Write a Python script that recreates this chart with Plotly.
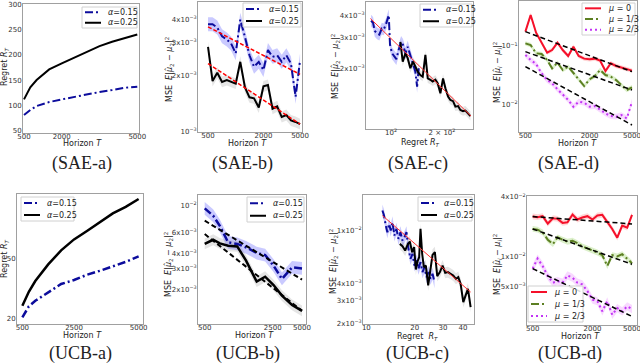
import plotly.graph_objects as go

W, H = 640, 364

# ---------------- data ----------------
# SAE-a : regret vs horizon
sae_a_T = [500, 750, 1000, 1500, 2000, 2500, 3000, 3500, 4000, 4500, 5000]
sae_a_a15 = [81.5, 91.3, 99.2, 107, 112.3, 117.6, 122.8, 126.8, 130.7, 135.3, 137.3]
sae_a_a25 = [112.3, 136, 150.4, 171.4, 183.2, 195, 206.2, 217.3, 225.9, 232.4, 240.3]

# SAE-b : MSE vs horizon
sae_b_T = [500, 560, 630, 710, 800, 890, 1000, 1120, 1260, 1410, 1580,
           1780, 2000, 2240, 2510, 2820, 3160, 3550, 3980, 4470, 5000]
sae_b_a15 = [3.76e-3, 3.76e-3, 3.61e-3, 3.24e-3, 3.11e-3, 2.96e-3, 2.62e-3, 3.98e-3,
             3.21e-3, 2.56e-3, 2.22e-3, 2.36e-3, 2.13e-3, 2.73e-3, 2.51e-3, 2.56e-3,
             2.36e-3, 2.56e-3, 2.31e-3, 1.53e-3, 2.41e-3]
sae_b_a25 = [2.84e-3, 1.86e-3, 2.06e-3, 1.84e-3, 1.88e-3, 1.84e-3, 1.80e-3, 2.36e-3,
             1.72e-3, 1.52e-3, 1.50e-3, 1.34e-3, 1.74e-3, 1.77e-3, 1.32e-3, 1.36e-3,
             1.19e-3, 1.22e-3, 1.14e-3, 1.12e-3, 1.09e-3]
sae_b_fitT = [500, 5000]
sae_b_fit15 = [3.64e-3, 2.02e-3]
sae_b_fit25 = [2.31e-3, 1.09e-3]

# SAE-c : MSE vs regret
sae_c_R15 = [76.2, 78.3, 80.1, 82.7, 85.3, 88.1, 90.5, 93.4, 96.9, 98.6, 101.4, 104.6,
             107.5, 110.9, 114.6, 117.7, 121.6, 125.4, 130.0, 134.9, 139.2, 142.5, 145.7]
sae_c_m15 = [3.72e-3, 3.62e-3, 3.26e-3, 3.15e-3, 3.10e-3, 3.36e-3, 3.32e-3, 3.56e-3,
             4.0e-3, 2.71e-3, 2.43e-3, 2.31e-3, 2.25e-3, 2.54e-3, 2.82e-3, 2.71e-3,
             2.43e-3, 2.65e-3, 2.38e-3, 2.09e-3, 1.91e-3, 1.57e-3, 2.0e-3]
sae_c_R25 = [113.5, 117.2, 121.6, 125.4, 130.0, 134.9, 139.3, 143.7, 148.9, 153.8,
             159.5, 164.7, 170.8, 176.1, 182.7, 188.7, 195.6, 202.8, 209.4, 217.2,
             224.1, 232.4, 239.9, 248.8, 256.6, 266.1, 274.8, 285.0, 294.4]
sae_c_m25 = [2.82e-3, 2.18e-3, 2.43e-3, 2.28e-3, 2.0e-3, 2.18e-3, 2.04e-3, 1.91e-3,
             1.83e-3, 1.79e-3, 2.38e-3, 1.75e-3, 1.72e-3, 1.68e-3, 1.72e-3, 1.64e-3,
             1.44e-3, 1.75e-3, 1.54e-3, 1.38e-3, 1.32e-3, 1.30e-3, 1.21e-3, 1.22e-3,
             1.16e-3, 1.14e-3, 1.15e-3, 1.10e-3, 1.07e-3]
sae_c_fitR = [75.5, 296.5]
sae_c_fit = [3.83e-3, 1.07e-3]

# SAE-d : MSE per arm vs horizon
sae_d_T = sae_b_T
sae_d_mu0 = [0.176, 0.340, 0.169, 0.114, 0.0769, 0.0853, 0.114, 0.0853, 0.0674, 0.0974,
             0.0674, 0.0607, 0.0591, 0.0607, 0.0561, 0.0373, 0.0505, 0.0454, 0.0425,
             0.0398, 0.0378]
sae_d_mu1 = [0.111, 0.104, 0.0749, 0.0729, 0.0575, 0.0414, 0.0518, 0.0388, 0.0443,
             0.0349, 0.0268, 0.0206, 0.0268, 0.0306, 0.0388, 0.0318, 0.0298, 0.0261,
             0.0214, 0.0176, 0.0196]
sae_d_mu2 = [0.0701, 0.0575, 0.0491, 0.034, 0.0261, 0.0229, 0.0181, 0.0150, 0.0119,
             0.00912, 0.0111, 0.0107, 0.00912, 0.00936, 0.0080, 0.0070, 0.0063,
             0.00615, 0.00656, 0.00575, 0.0111]
sae_d_fitT = [500, 5000]
sae_d_fit0 = [0.176, 0.0363]
sae_d_fit1 = [0.080, 0.0176]
sae_d_fit2 = [0.0443, 0.00443]

# UCB-a
ucb_a_T = sae_a_T
ucb_a_a15 = [20.5, 26, 28.8, 33, 37.2, 39.2, 41.8, 43.8, 46, 48.3, 51]
ucb_a_a25 = [26.3, 33.3, 38.7, 47, 54, 59.5, 63.7, 68, 72.5, 75.8, 79.7]

# UCB-b
ucb_b_T = [500, 610, 715, 870, 1080, 1330, 1710, 2090, 2550, 3110, 3950, 5000]
ucb_b_a15 = [9.5e-3, 8.26e-3, 6.8e-3, 4.95e-3, 4.8e-3, 4.5e-3, 4.03e-3, 3.88e-3,
             3.16e-3, 2.45e-3, 3.06e-3, 3.0e-3]
ucb_b_a25 = [4.8e-3, 5.2e-3, 4.85e-3, 4.64e-3, 4.58e-3, 3.48e-3, 2.33e-3, 2.56e-3,
             2.18e-3, 1.78e-3, 1.49e-3, 1.33e-3]
ucb_b_fitT = [500, 5000]
ucb_b_fit15 = [7.5e-3, 2.42e-3]
ucb_b_fit25 = [5.8e-3, 1.33e-3]

# UCB-c
ucb_c_R15 = [12.59, 12.89, 13.21, 13.52, 13.86, 14.19, 14.54, 14.96, 15.40, 15.85,
             16.31, 16.79, 17.28, 17.78, 18.30, 18.84, 19.39, 19.95, 20.54, 21.13,
             21.75, 22.39, 23.04, 23.71, 24.41, 25.12, 25.85, 26.61]
ucb_c_m15 = [0.01413, 0.01296, 0.01090, 0.00972, 0.01122, 0.01, 0.01155, 0.00917,
             0.01029, 0.00866, 0.00972, 0.00841, 0.00891, 0.00972, 0.00729, 0.00613,
             0.00668, 0.00546, 0.00596, 0.00516, 0.00579, 0.00487, 0.00531, 0.00447,
             0.00487, 0.00434, 0.00473, 0.0041]
ucb_c_R25 = [16.16, 16.79, 17.45, 18.04, 18.66, 19.29, 19.86, 20.34, 20.84, 21.34,
             21.75, 22.28, 22.82, 23.49, 24.29, 25.12, 25.85, 26.74, 27.65, 28.73,
             29.85, 31.02, 32.24, 33.50, 34.81, 36.17, 37.41, 38.69, 40.20, 41.58,
             42.99, 44.67]
ucb_c_m25 = [0.00794, 0.00763, 0.00708, 0.0078, 0.00827, 0.00688, 0.0075, 0.0051,
             0.00586, 0.00631, 0.01029, 0.00668, 0.00531, 0.00546, 0.00387, 0.0051,
             0.00657, 0.00688, 0.00455, 0.00487, 0.00546, 0.00481, 0.00487, 0.00473,
             0.0046, 0.00434, 0.00447, 0.00398, 0.0029, 0.00326, 0.00365, 0.00266]
ucb_c_fitR = [12.59, 44.67]
ucb_c_fit = [0.01296, 0.00345]

# UCB-d
ucb_d_T = sae_b_T
ucb_d_mu0 = [0.02543, 0.02503, 0.02563, 0.02159, 0.02445, 0.02407, 0.02193, 0.02228,
             0.02665, 0.02370, 0.02484, 0.02563, 0.02370, 0.02603, 0.02644, 0.02262,
             0.01905, 0.01555, 0.0206, 0.01965, 0.02644]
ucb_d_mu1 = [0.01905, 0.01876, 0.01762, 0.01484, 0.01341, 0.01567, 0.01484, 0.01416,
             0.01450, 0.01373, 0.01270, 0.01211, 0.01165, 0.01103, 0.01036, 0.00807,
             0.01036, 0.01005, 0.01061, 0.00944, 0.00859]
ucb_d_mu2 = [0.00759, 0.00959, 0.00807, 0.00639, 0.00547, 0.00568, 0.00547, 0.00649,
             0.00614, 0.00547, 0.00526, 0.0045, 0.0037, 0.00356, 0.00282, 0.00356,
             0.0026, 0.00304, 0.00282, 0.00316, 0.00297]
ucb_d_fitT = [500, 5000]
ucb_d_fit0 = [0.02543, 0.02142]
ucb_d_fit1 = [0.01905, 0.00839]
ucb_d_fit2 = [0.00759, 0.0025]

# ---------------- styles ----------------
BLUE = '#0c0c9c'
BLUE_BAND = 'rgba(95,95,255,0.33)'
GRAY_BAND = 'rgba(110,110,110,0.18)'
RED = '#f5102a'
RED_BAND = 'rgba(255,110,110,0.28)'
GREEN = '#5c7f22'
GREEN_BAND = 'rgba(130,200,70,0.28)'
MAG = '#c234f5'
MAG_BAND = 'rgba(230,120,255,0.28)'
DASHDOT = '8px,3px,2px,3px'
DOT = '2px,3px'
FITDASH = '5px,3px'
FONT = 'DejaVu Sans'

fig = go.Figure()


def px(x):
    return x / W


def py(y):
    return 1 - y / H


def line(i, x, y, color, dash='solid', width=2):
    fig.add_trace(go.Scatter(x=x, y=y, mode='lines', showlegend=False,
                             line=dict(color=color, dash=dash, width=width),
                             xaxis='x%d' % i, yaxis='y%d' % i, hoverinfo='skip'))


def band(i, x, y, spread, color):
    up = [v * (1 + spread) for v in y]
    lo = [v / (1 + spread) for v in y]
    fig.add_trace(go.Scatter(x=x, y=up, mode='lines', line=dict(width=0),
                             showlegend=False, xaxis='x%d' % i, yaxis='y%d' % i,
                             hoverinfo='skip'))
    fig.add_trace(go.Scatter(x=x, y=lo, mode='lines', line=dict(width=0),
                             fill='tonexty', fillcolor=color, showlegend=False,
                             xaxis='x%d' % i, yaxis='y%d' % i, hoverinfo='skip'))


# panel boxes in pixels: x0, x1, y0, y1
boxes = {
    1: (23, 139, 4, 133), 2: (198, 302, 2, 132), 3: (366, 473, 2, 129), 4: (519, 637, 1, 132),
    5: (17, 143, 194, 324), 6: (198, 306, 195, 324), 7: (363, 474, 195, 324), 8: (527, 637, 196, 325),
}

e3 = '10<sup>−3</sup>'
e2 = '10<sup>−2</sup>'
axes = {
    1: dict(xt='linear', xr=[460, 5068], xv=[500, 2000, 5000], xl=['500', '2000', '5000'],
            yt='linear', yr=[46, 300.5], yv=[50, 100, 150, 200, 250, 300],
            yl=['50', '100', '150', '200', '250', '300']),
    2: dict(xt='log', xr=[2.59, 3.72], xv=[500, 2000, 5000], xl=['500', '2000', '5000'],
            yt='log', yr=[-3.005, -2.305], yv=[1e-3, 2e-3, 3e-3, 4e-3],
            yl=[e3, '2x' + e3, '3x' + e3, '4x' + e3]),
    3: dict(xt='log', xr=[1.852, 2.484], xv=[100, 200], xl=['10<sup>2</sup>', '2 × 10<sup>2</sup>'],
            yt='log', yr=[-3.044, -2.323], yv=[2e-3, 3e-3, 4e-3],
            yl=['2x' + e3, '3x' + e3, '4x' + e3]),
    4: dict(xt='log', xr=[2.639, 3.746], xv=[500, 2000, 5000], xl=['500', '2000', '5000'],
            yt='log', yr=[-2.474, -0.229], yv=[1e-2, 1e-1],
            yl=[e2, '10<sup>−1</sup>']),
    5: dict(xt='linear', xr=[292, 5169], xv=[500, 2500, 5000], xl=['500', '2500', '5000'],
            yt='linear', yr=[17.2, 82.2], yv=[20, 50], yl=['20', '50']),
    6: dict(xt='log', xr=[2.63, 3.74], xv=[500, 2500, 5000], xl=['500', '2500', '5000'],
            yt='log', yr=[-2.986, -1.911], yv=[2e-3, 3e-3, 4e-3, 6e-3, 1e-2],
            yl=['2x' + e3, '3x' + e3, '4x' + e3, '6x' + e3, e2]),
    7: dict(xt='log', xr=[0.979, 1.671], xv=[10, 20, 30, 40], xl=['10', '20', '30', '40'],
            yt='log', yr=[-2.702, -1.733], yv=[2e-3, 3e-3, 4e-3, 1e-2],
            yl=['2x' + e3, '3x' + e3, '4x' + e3, '1x' + e2]),
    8: dict(xt='log', xr=[2.642, 3.749], xv=[500, 2000, 5000], xl=['500', '2000', '5000'],
            yt='log', yr=[-2.688, -1.388], yv=[5e-3, 1e-2, 4e-2],
            yl=['5x' + e3, '1x' + e2, '4x' + e2]),
}

layout = dict(width=W, height=H, margin=dict(l=0, r=0, t=0, b=0, autoexpand=False),
              paper_bgcolor='white', plot_bgcolor='white', showlegend=False)
for i, (x0, x1, y0, y1) in boxes.items():
    a = axes[i]
    common = dict(showline=True, mirror=True, linecolor='#a0a0a0', linewidth=1,
                  showgrid=False, zeroline=False, ticks='', automargin=False,
                  ticklabeloverflow='allow',
                  tickfont=dict(family=FONT, size=7, color='#333'))
    layout['xaxis%d' % i] = dict(domain=[px(x0), px(x1)], anchor='y%d' % i, type=a['xt'],
                                 range=a['xr'], tickmode='array', tickvals=a['xv'],
                                 ticktext=a['xl'], ticklabelstandoff=-3, **common)
    layout['yaxis%d' % i] = dict(domain=[py(y1), py(y0)], anchor='x%d' % i, type=a['yt'],
                                 range=a['yr'], tickmode='array', tickvals=a['yv'],
                                 ticktext=a['yl'], ticklabelstandoff=-1, **common)

# ---------------- traces ----------------
# SAE-a
line(1, sae_a_T, sae_a_a15, BLUE, DASHDOT)
line(1, sae_a_T, sae_a_a25, 'black')
# SAE-b
band(2, sae_b_T, sae_b_a15, 0.09, BLUE_BAND)
band(2, sae_b_T, sae_b_a25, 0.07, GRAY_BAND)
line(2, sae_b_T, sae_b_a15, BLUE, DASHDOT)
line(2, sae_b_T, sae_b_a25, 'black')
line(2, sae_b_fitT, sae_b_fit15, 'red', '4px,2px', 1.5)
line(2, sae_b_fitT, sae_b_fit25, 'red', '4px,2px', 1.5)
# SAE-c
band(3, sae_c_R15, sae_c_m15, 0.08, BLUE_BAND)
band(3, sae_c_R25, sae_c_m25, 0.06, GRAY_BAND)
line(3, sae_c_R15, sae_c_m15, BLUE, DASHDOT)
line(3, sae_c_R25, sae_c_m25, 'black')
line(3, sae_c_fitR, sae_c_fit, '#ff3030', 'solid', 1)
# SAE-d
band(4, sae_d_T, sae_d_mu0, 0.09, RED_BAND)
band(4, sae_d_T, sae_d_mu1, 0.09, GREEN_BAND)
band(4, sae_d_T, sae_d_mu2, 0.12, MAG_BAND)
line(4, sae_d_T, sae_d_mu0, RED)
line(4, sae_d_T, sae_d_mu1, GREEN, DASHDOT)
line(4, sae_d_T, sae_d_mu2, MAG, DOT)
for f in (sae_d_fit0, sae_d_fit1, sae_d_fit2):
    line(4, sae_d_fitT, f, 'black', FITDASH, 1.5)
# UCB-a
line(5, ucb_a_T, ucb_a_a15, BLUE, DASHDOT, 2.5)
line(5, ucb_a_T, ucb_a_a25, 'black', 'solid', 2.5)
# UCB-b
band(6, ucb_b_T, ucb_b_a15, 0.13, BLUE_BAND)
band(6, ucb_b_T, ucb_b_a25, 0.11, GRAY_BAND)
line(6, ucb_b_T, ucb_b_a15, BLUE, DASHDOT, 2.5)
line(6, ucb_b_T, ucb_b_a25, 'black', 'solid', 2.5)
line(6, ucb_b_fitT, ucb_b_fit15, 'black', FITDASH, 2)
line(6, ucb_b_fitT, ucb_b_fit25, 'black', FITDASH, 2)
# UCB-c
band(7, ucb_c_R15, ucb_c_m15, 0.11, BLUE_BAND)
band(7, ucb_c_R25, ucb_c_m25, 0.1, GRAY_BAND)
line(7, ucb_c_R15, ucb_c_m15, BLUE, DASHDOT)
line(7, ucb_c_R25, ucb_c_m25, 'black')
line(7, ucb_c_fitR, ucb_c_fit, '#ff3030', 'solid', 1)
# UCB-d
band(8, ucb_d_T, ucb_d_mu0, 0.07, RED_BAND)
band(8, ucb_d_T, ucb_d_mu1, 0.07, GREEN_BAND)
band(8, ucb_d_T, ucb_d_mu2, 0.1, MAG_BAND)
line(8, ucb_d_T, ucb_d_mu0, RED)
line(8, ucb_d_T, ucb_d_mu1, GREEN, DASHDOT)
line(8, ucb_d_T, ucb_d_mu2, MAG, DOT)
for f in (ucb_d_fit0, ucb_d_fit1, ucb_d_fit2):
    line(8, ucb_d_fitT, f, 'black', FITDASH, 1.5)

# ---------------- legends, titles, captions ----------------
shapes = []
annotations = []


def legend(x0, y0, x1, y1, items):
    shapes.append(dict(type='rect', xref='paper', yref='paper', x0=px(x0), x1=px(x1),
                       y0=py(y0), y1=py(y1), line=dict(color='#d0d0d0', width=1),
                       fillcolor='rgba(255,255,255,0.85)', layer='above'))
    step = (y1 - y0) / len(items)
    for k, (label, color, dash) in enumerate(items):
        yc = y0 + step * (k + 0.5)
        shapes.append(dict(type='line', xref='paper', yref='paper', x0=px(x0 + 3),
                           x1=px(x0 + 19), y0=py(yc), y1=py(yc), layer='above',
                           line=dict(color=color, dash=dash, width=2)))
        annotations.append(dict(x=px(x0 + 24), y=py(yc), xref='paper', yref='paper',
                                text=label, showarrow=False, xanchor='left', yanchor='middle',
                                font=dict(family=FONT, size=8, color='#222')))


A = [('<i>α</i>=0.15', BLUE, DASHDOT), ('<i>α</i>=0.25', 'black', 'solid')]
M = [('<i>μ</i> = 0', RED, 'solid'), ('<i>μ</i> = 1/3', GREEN, DASHDOT),
     ('<i>μ</i> = 2/3', MAG, DOT)]
legend(82, 7, 137, 28, A)
legend(243, 3, 301, 27, A)
legend(420, 4, 472, 27, A)
legend(582, 3, 635, 35, M)
legend(21, 197, 74, 221, A)
legend(247, 197, 304, 222, A)
legend(418, 197, 472, 221, A)
legend(528, 286, 583, 322, M)


def text(x, y, s, size=8, angle=0, family=FONT):
    annotations.append(dict(x=px(x), y=py(y), xref='paper', yref='paper', text=s,
                            showarrow=False, textangle=angle, xanchor='center',
                            yanchor='middle', font=dict(family=family, size=size, color='#222')))


horizon = 'Horizon <i>T</i>'
regret = 'Regret <i>R</i><sub><i>T</i></sub>'
mse2 = 'MSE  <i>E</i>|<i>μ̂</i><sub>2</sub> − <i>μ</i><sub>2</sub>|<sup>2</sup>'
msei = 'MSE  <i>E</i>|<i>μ̂</i><sub><i>i</i></sub> − <i>μ</i><sub><i>i</i></sub>|<sup>2</sup>'

for x, y, s in [(82, 144, horizon), (247, 144, horizon), (420, 143.5, regret),
                (577, 144, horizon), (82, 335.5, horizon), (254, 335.5, horizon),
                (417, 337, 'Regret  <i>R</i><sub><i>T</i></sub>'), (580, 336.5, horizon)]:
    text(x, y, s)
for x, y, s in [(5, 67, regret), (169, 70, mse2), (335, 67, mse2), (498, 73, msei),
                (5, 259, regret), (168, 265, mse2), (333, 262, mse2), (497, 265, msei)]:
    text(x, y, s, angle=-90)

SERIF = 'Liberation Serif'
for x, y, s in [(82, 163, '(SAE-a)'), (242, 163, '(SAE-b)'), (418, 163, '(SAE-c)'),
                (568, 163, '(SAE-d)'), (80, 353, '(UCB-a)'), (248, 353, '(UCB-b)'),
                (417, 353, '(UCB-c)'), (570, 353, '(UCB-d)')]:
    text(x, y, s, size=18, family=SERIF)

layout['shapes'] = shapes
layout['annotations'] = annotations
fig.update_layout(**layout)
fig.write_html("out.html", config={'displayModeBar': False},
               post_script="document.body.style.margin='0';document.body.style.overflow='hidden';")
